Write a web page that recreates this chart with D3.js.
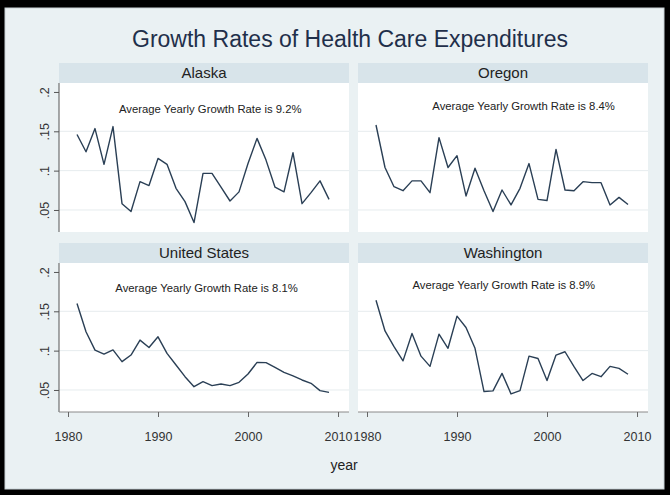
<!DOCTYPE html>
<html>
<head>
<meta charset="utf-8">
<script src="https://cdn.jsdelivr.net/npm/d3@7"></script>
<style>
  html, body { margin: 0; padding: 0; background: #000; }
  svg { display: block; font-family: "Liberation Sans", Arial, sans-serif; }
</style>
</head>
<body>
<svg id="chart" width="670" height="495"></svg>
<script>
// ---------- data ----------
const years = d3.range(1981, 2010);
const alaska = [0.146,0.124,0.1535,0.108,0.156,0.058,0.048,0.086,0.081,0.1155,0.108,0.0775,0.0606,0.034,0.0965,0.0965,0.079,0.0614,0.073,0.109,0.141,0.1134,0.079,0.073,0.1227,0.058,0.072,0.087,0.0635];
const oregon = [0.158,0.104,0.0796,0.0745,0.087,0.087,0.072,0.142,0.104,0.119,0.0678,0.103,0.0745,0.048,0.0754,0.0564,0.0775,0.109,0.0635,0.062,0.127,0.0754,0.0745,0.086,0.0847,0.0847,0.0564,0.066,0.057];
const unitedStates = [0.16,0.124,0.1007,0.0956,0.101,0.086,0.0944,0.1134,0.104,0.1176,0.0965,0.0817,0.0669,0.0542,0.0606,0.0555,0.0576,0.0555,0.0597,0.0703,0.085,0.0847,0.0787,0.0724,0.0678,0.0627,0.0585,0.0492,0.047];
const washington = [0.164,0.125,0.105,0.087,0.1218,0.093,0.080,0.121,0.103,0.1438,0.1294,0.103,0.048,0.0488,0.0711,0.045,0.0492,0.093,0.090,0.062,0.0944,0.0986,0.0796,0.062,0.071,0.0669,0.080,0.0775,0.070];
const panelNames = ["Alaska", "Oregon", "United States", "Washington"];
const avgRates = ["9.2%", "8.4%", "8.1%", "8.9%"];
const noteYear = [1995.8, 1997.4, 1995.4, 1995.2];
const noteValue = [0.1784, 0.182, 0.1797, 0.184];
const yTicks = [0.05, 0.1, 0.15, 0.2];
const yTickLabels = [".05", ".1", ".15", ".2"];
const xTicks = [1980, 1990, 2000, 2010];
const titleText = "Growth Rates of Health Care Expenditures";
const xTitle = "year";

const seriesList = [alaska, oregon, unitedStates, washington];

// ---------- layout ----------
const svg = d3.select("#chart");
const W = 670, H = 495;
const bg = "#eaf1f3", stripColor = "#d8e4ea", lineColor = "#2a3f55";

svg.append("rect").attr("width", W).attr("height", H).attr("fill", "#000");
svg.append("rect").attr("x", 5).attr("y", 8).attr("width", 659).attr("height", 481)
  .attr("fill", bg).attr("stroke", "#c9d2d6").attr("stroke-width", 1);

svg.append("text").attr("x", 350).attr("y", 47).attr("text-anchor", "middle")
  .attr("font-size", 23).attr("fill", "#1f2f4a").text(titleText);

const colX = [59, 358];
const panelW = 290;
const rows = [{ stripTop: 63, plotTop: 83, plotBottom: 232 },
              { stripTop: 243, plotTop: 263, plotBottom: 412 }];

panelNames.forEach((name, i) => {
  const col = i % 2, row = Math.floor(i / 2);
  const x0 = colX[col], r = rows[row];
  const x = d3.scaleLinear().domain([1979, 2011.22]).range([x0, x0 + panelW]);
  const y = d3.scaleLinear().domain([0.022, 0.2114]).range([r.plotBottom, r.plotTop]);
  const g = svg.append("g");

  // strip
  g.append("rect").attr("x", x0).attr("y", r.stripTop).attr("width", panelW)
    .attr("height", r.plotTop - r.stripTop).attr("fill", stripColor);
  g.append("text").attr("x", x0 + panelW / 2).attr("y", (r.stripTop + r.plotTop) / 2 + 5.4)
    .attr("text-anchor", "middle").attr("font-size", 15).attr("fill", "#222").text(name);

  // plot region
  g.append("rect").attr("x", x0).attr("y", r.plotTop).attr("width", panelW)
    .attr("height", r.plotBottom - r.plotTop).attr("fill", "#fff");

  // gridlines
  g.selectAll(".grid").data(yTicks.filter(t => t < 0.2)).enter().append("line")
    .attr("x1", x0).attr("x2", x0 + panelW)
    .attr("y1", d => y(d)).attr("y2", d => y(d))
    .attr("stroke", "#e6ecee").attr("stroke-width", 1);

  // y axis (left column)
  if (col === 0) {
    const ya = d3.axisLeft(y).tickValues(yTicks).tickSize(5)
      .tickFormat((d, k) => yTickLabels[k]);
    const ag = g.append("g").attr("transform", `translate(${x0},0)`).call(ya);
    ag.select(".domain").attr("d", `M0,${r.plotTop}V${r.plotBottom}`).attr("stroke", "#555");
    ag.selectAll(".tick line").attr("stroke", "#555");
    ag.selectAll(".tick text").attr("font-size", 12.5).attr("fill", "#333")
      .attr("font-family", "Liberation Sans, Arial, sans-serif")
      .attr("transform", "rotate(-90)").attr("x", 0).attr("y", -14)
      .attr("dy", "0").attr("text-anchor", "middle")
      .attr("dominant-baseline", "central");
  }

  // x axis (bottom row)
  if (row === 1) {
    const xa = d3.axisBottom(x).tickValues(xTicks).tickSize(5).tickFormat(d3.format("d"));
    const ag = g.append("g").attr("transform", `translate(0,${r.plotBottom})`).call(xa);
    ag.select(".domain").attr("d", `M${x0},0H${x0 + panelW}`).attr("stroke", "#8a8a8a");
    ag.selectAll(".tick line").attr("stroke", "#666");
    ag.selectAll(".tick text").attr("font-size", 12.5).attr("fill", "#333")
      .attr("font-family", "Liberation Sans, Arial, sans-serif")
      .attr("y", 25).attr("dy", "0.35em");
  }

  // line
  const line = d3.line().x((d, k) => x(years[k])).y(d => y(d));
  g.append("path").datum(seriesList[i]).attr("d", line)
    .attr("fill", "none").attr("stroke", lineColor).attr("stroke-width", 1.4)
    .attr("stroke-linejoin", "round");

  // annotation
  g.append("text").attr("x", x(noteYear[i])).attr("y", y(noteValue[i])).attr("dy", "0.35em")
    .attr("text-anchor", "middle").attr("font-size", 11.3).attr("fill", "#222")
    .text("Average Yearly Growth Rate is " + avgRates[i]);
});

svg.append("text").attr("x", 344).attr("y", 470).attr("text-anchor", "middle")
  .attr("font-size", 14).attr("fill", "#222").text(xTitle);
</script>
</body>
</html>
